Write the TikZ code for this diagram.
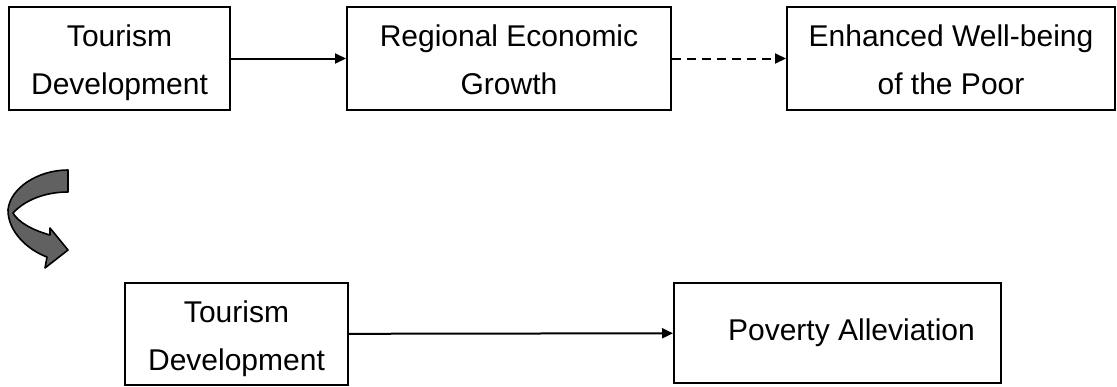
\documentclass[tikz,border=0pt]{standalone}
\usepackage{fontspec}
\setmainfont{Liberation Sans}
\usetikzlibrary{arrows.meta}
\newcommand{\twol}[2]{\rule{0pt}{31pt}#1\\#2\rule[-6.5pt]{0pt}{6.5pt}}
\tikzset{
  box/.style={draw=black, line width=2pt, rectangle, inner sep=0pt, align=center,
    font=\fontsize{30}{48}\selectfont},
  arr/.style={line width=2pt, -{Triangle[length=11pt,width=10pt]}},
  darr/.style={arr, dash pattern=on 9pt off 6pt},
  curvearrow/.style={fill=black!62, draw=black, line width=1.6pt, line join=round}
}
\begin{document}
\begin{tikzpicture}[x=1pt,y=-1pt]
\useasboundingbox (0,0) rectangle (1117,386);
\node[box, minimum width=221pt, minimum height=103pt] (b1) at (119.5,58.5) {\twol{Tourism}{Development}};
\node[box, minimum width=324pt, minimum height=103pt] (b2) at (509,58.5) {\twol{Regional Economic}{Growth}};
\node[box, minimum width=328pt, minimum height=103pt] (b3) at (951,58.5) {\twol{Enhanced Well-being}{of the Poor}};
\node[box, minimum width=223pt, minimum height=102pt] (b4) at (236.5,334) {\twol{Tourism}{Development}};
\node[box, minimum width=327pt, minimum height=100pt] (b5) at (837.5,333) {\hspace*{28pt}\rule[-6.5pt]{0pt}{28pt}Poverty Alleviation};
\draw[arr] (b1) -- (b2);
\draw[darr] (b2) -- (b3);
\draw[arr] (b4) -- (b5);
% curved arrow
\draw[curvearrow] (68,170) .. controls (38,170) and (10,188) .. (8,210)
  .. controls (8,232) and (28,250) .. (47,257)
  -- (45,268) -- (68,250) -- (50,228) -- (50,235)
  .. controls (32,230) and (18,222) .. (13,213)
  .. controls (25,200) and (45,192) .. (68,192) -- cycle;
\end{tikzpicture}
\end{document}
